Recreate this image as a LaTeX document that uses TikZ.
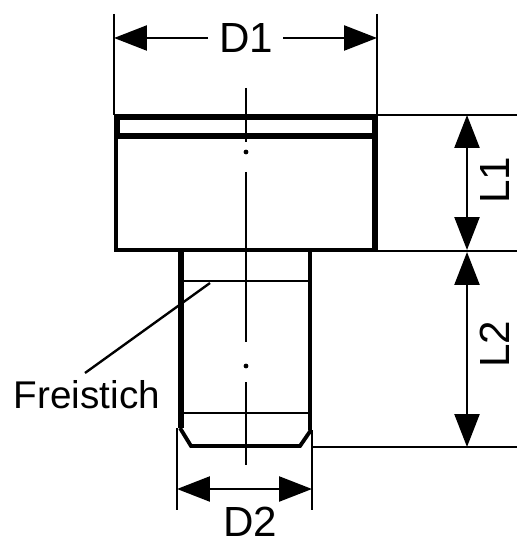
\documentclass[tikz,border=0pt]{standalone}
\usepackage{fontspec}
\setmainfont{Liberation Sans}
\usetikzlibrary{arrows.meta}
\tikzset{
  thickline/.style={line width=3.4pt},
  partline/.style={line width=2.2pt},
  thinline/.style={line width=1.35pt},
  centreline/.style={line width=1.3pt},
  dimline/.style={line width=1.4pt,-{Triangle[length=0.66cm,width=0.5cm]}},
  dimdouble/.style={line width=1.4pt,{Triangle[length=0.66cm,width=0.5cm]}-{Triangle[length=0.66cm,width=0.5cm]}},
  dimlabel/.style={font=\fontsize{24}{24}\selectfont,inner sep=0pt}
}
\begin{document}
\begin{tikzpicture}[x=0.02cm,y=-0.02cm]
\useasboundingbox (0,0) rectangle (517,543);

% Head
\draw[thickline] (114,117) -- (378,117);
\draw[thickline] (117,117) -- (117,136);
\draw[thickline] (375,117) -- (375,136);
\draw[thickline] (116,136) -- (375,136);
\draw[partline,line width=2.8pt] (116,136) -- (116,250) -- (375,250);
\draw[thickline] (375,136) -- (375,252);

% Shank
\draw[thickline] (181,250) -- (181,428);
\draw[partline,line width=2.8pt] (310,250) -- (310,430);
\draw[thinline,line width=1.6pt] (181,281) -- (310,281);
\draw[thinline,line width=1.6pt] (181,413) -- (310,413);
\draw[partline] (180,428) -- (191,446) -- (300,446) -- (311,430);

% Centre line
\draw[centreline] (246,88) -- (246,142);
\fill (246,152) circle (2.4);
\draw[centreline] (246,172) -- (246,342);
\fill (246,366) circle (2.4);
\draw[centreline] (246,382) -- (246,465);

% Extension lines
\coordinate (d1a) at (114,38);
\coordinate (d1b) at (377,38);
\coordinate (d2a) at (177,489);
\coordinate (d2b) at (312,489);
\coordinate (l1a) at (467,115);
\coordinate (l1b) at (467,250);
\coordinate (l2a) at (467,252);
\coordinate (l2b) at (467,447);
\draw[thinline] (114,14) -- (114,115);
\draw[thinline] (377,14) -- (377,115);
\draw[thinline] (177,428) -- (177,510);
\draw[thinline] (312,430) -- (312,510);
\draw[thinline] (377,115) -- (517,115);
\draw[thinline] (377,251) -- (517,251);
\draw[thinline] (311,447) -- (517,447);

% Dimensions
\node[dimlabel] (labD1) at (246,38) {D1};
\draw[dimline] (208,38) -- (d1a);
\draw[dimline] (283,38) -- (d1b);
\draw[dimdouble] (d2a) -- (d2b);
\draw[dimdouble] (l1a) -- (l1b);
\draw[dimdouble] (l2a) -- (l2b);
\node[dimlabel] (labD2) at (250,522) {D2};
\node[dimlabel,rotate=90,anchor=base] (labL1) at (509,180) {L1};
\node[dimlabel,rotate=90,anchor=base] (labL2) at (509,344) {L2};

% Leader
\node[font=\fontsize{22}{22}\selectfont,inner sep=0pt] (labFrei) at (87,395) {Freistich};
\coordinate (frei) at (210,283);
\draw[thinline] (85,373) -- (frei);
\end{tikzpicture}
\end{document}
